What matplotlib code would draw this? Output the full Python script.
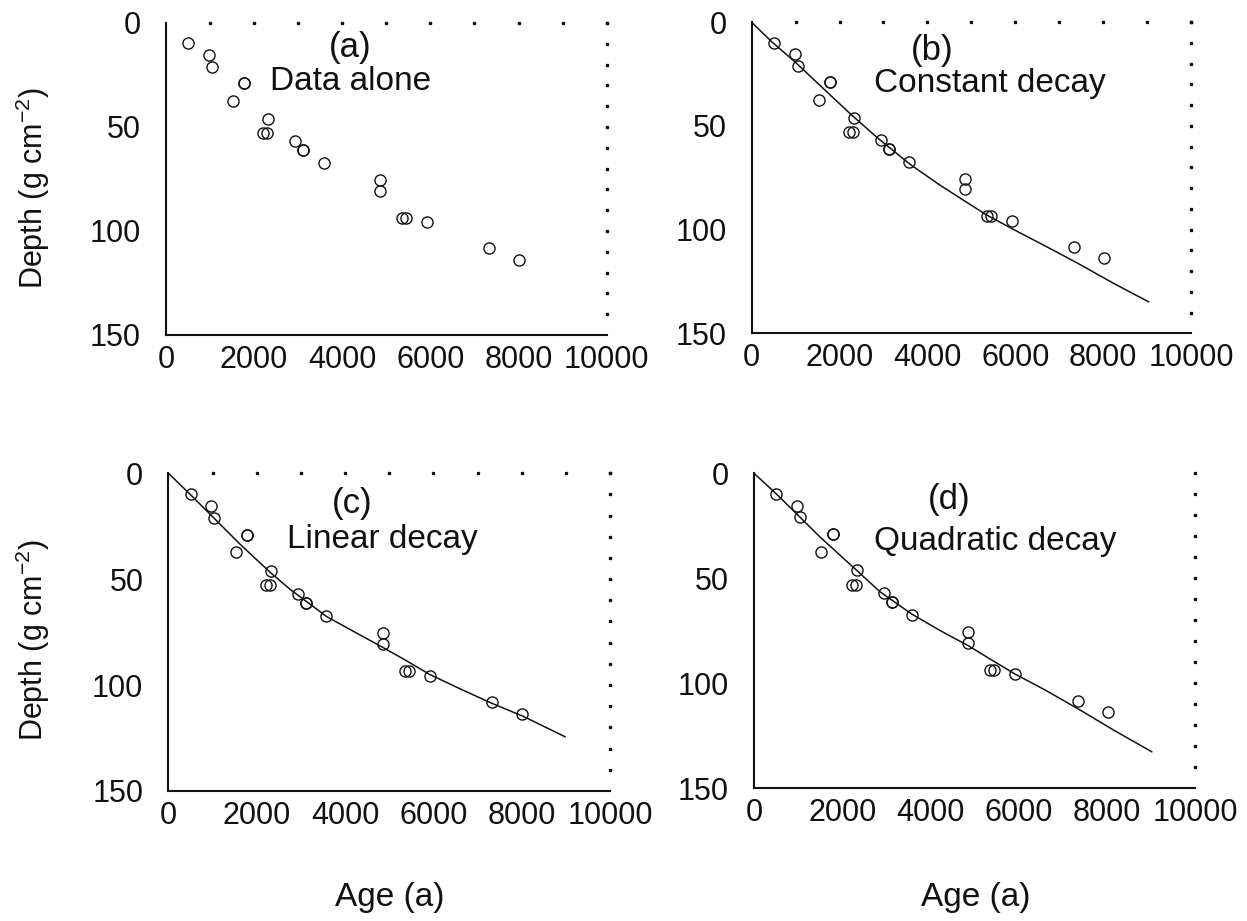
import matplotlib
matplotlib.use('Agg')
import matplotlib.pyplot as plt
import numpy as np

plt.rcParams['font.family'] = ['Liberation Sans', 'DejaVu Sans']
plt.rcParams['mathtext.fontset'] = 'custom'
plt.rcParams['mathtext.rm'] = 'Liberation Sans'
plt.rcParams['mathtext.it'] = 'Liberation Sans:italic'

# measured ages (a) and depths (g cm-2), same in every panel
age = [506, 976, 1044, 1777, 1777, 1527, 2322, 2208, 2299, 2934, 3116, 3116,
       3578, 4849, 4849, 5348, 5446, 5922, 7336, 8010]
depth = [9.8, 15.4, 21.0, 29.0, 29.0, 37.4, 46.2, 53.0, 53.0, 56.8, 61.1, 61.1,
         67.3, 75.5, 80.6, 93.6, 93.6, 95.8, 108.2, 113.8]

# fitted curves
curve_b_age = [0, 456, 986, 1517, 2278, 2884, 3303, 3606, 4289, 4820, 5353,
               5959, 6720, 7403, 8237, 9034]
curve_b_depth = [0, 9.4, 19.1, 29.7, 44.8, 56.1, 63.3, 68.5, 78.6, 85.8, 93.0,
                 99.9, 108.3, 116.0, 125.9, 134.8]

curve_c_age = [0, 490, 1019, 1623, 2317, 2755, 3586, 4265, 4854, 5397, 5925,
               6679, 7322, 8037, 8981]
curve_c_depth = [0, 9.9, 20.9, 33.5, 47.0, 54.8, 67.7, 75.5, 82.2, 88.6, 95.1,
                 102.5, 108.6, 114.8, 124.4]

curve_d_age = [0, 514, 1026, 1502, 2293, 2852, 3570, 4215, 4853, 5383, 5911,
               6629, 7383, 8138, 9008]
curve_d_depth = [0, 10.0, 20.6, 30.5, 45.6, 56.4, 67.0, 74.9, 82.1, 88.9, 95.6,
                 103.6, 112.7, 122.2, 132.6]

x_ticks = [0, 2000, 4000, 6000, 8000, 10000]
y_ticks = [0, 50, 100, 150]
top_dots = np.arange(1000, 10001, 1000)
right_dots = np.arange(0, 141, 10)

ink = '#111111'

panels = [
    # rect, letter, title, letter pos, title pos, curve, top dots
    ([0.1331, 0.6363, 0.3534, 0.3388], '(a)', 'Data alone',
     (4175, 12.0), (4194, 28.2), None, True),
    ([0.6028, 0.6381, 0.3523, 0.3377], '(b)', 'Constant decay',
     (4107, 13.4), (5419, 29.4), (curve_b_age, curve_b_depth), True),
    ([0.1350, 0.1412, 0.3542, 0.3450], '(c)', 'Linear decay',
     (4152, 14.2), (4849, 31.5), (curve_c_age, curve_c_depth), True),
    ([0.6047, 0.1441, 0.3540, 0.3420], '(d)', 'Quadratic decay',
     (4427, 12.7), (5474, 32.6), (curve_d_age, curve_d_depth), False),
]

fig = plt.figure(figsize=(12.47, 9.21), dpi=100)

for rect, letter, title, lpos, tpos, curve, show_top in panels:
    ax = fig.add_axes(rect)
    if curve is not None:
        ax.plot(curve[0], curve[1], color=ink, lw=1.1)
    ax.plot(age, depth, 'o', mfc='none', mec=ink, ms=8, mew=1.0)

    ax.set_xlim(0, 10000)
    ax.set_ylim(150, 0)
    ax.set_xticks(x_ticks)
    ax.set_yticks(y_ticks)
    ax.tick_params(axis='x', length=0, labelsize=22, pad=7, colors=ink)
    ax.tick_params(axis='y', length=0, labelsize=22, pad=18, colors=ink)

    for s in ['top', 'right']:
        ax.spines[s].set_visible(False)
    for s in ['left', 'bottom']:
        ax.spines[s].set_linewidth(1.5)
        ax.spines[s].set_color(ink)

    # dotted frame on the top and right side
    if show_top:
        ax.plot(top_dots, np.zeros(len(top_dots)), 's', color=ink, ms=1.6,
                clip_on=False)
    ax.plot(np.full(len(right_dots), 10000), right_dots, 's', color=ink,
            ms=1.6, clip_on=False)

    ax.text(lpos[0], lpos[1], letter, ha='center', va='center', fontsize=25,
            color=ink)
    ax.text(tpos[0], tpos[1], title, ha='center', va='center', fontsize=24,
            color=ink)

ylab = r'Depth (g cm$^{\mathrm{-2}}$)'
fig.text(0.026, 0.796, ylab, rotation=90, ha='center', va='center',
         fontsize=22, color=ink)
fig.text(0.026, 0.305, ylab, rotation=90, ha='center', va='center',
         fontsize=22, color=ink)
fig.text(390 / 1247, 1 - 897 / 921, 'Age (a)', ha='center', va='center',
         fontsize=24, color=ink)
fig.text(976 / 1247, 1 - 897 / 921, 'Age (a)', ha='center', va='center',
         fontsize=24, color=ink)

fig.savefig('out.png', dpi=100)
